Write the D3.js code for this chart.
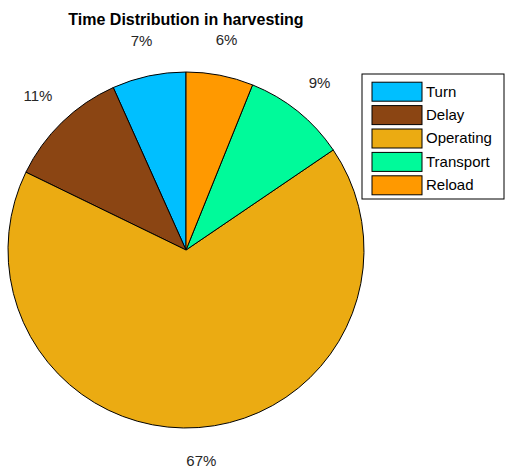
<!DOCTYPE html>
<html>
<head>
<meta charset="utf-8">
<script src="https://cdn.jsdelivr.net/npm/d3@7"></script>
<style>
  body { margin: 0; background: #fff; }
  text { font-family: "Liberation Sans", Arial, sans-serif; }
</style>
</head>
<body>
<script>
// Chart data
const categories = ['Turn', 'Delay', 'Operating', 'Transport', 'Reload'];
const values = [6.7, 11.1, 66.7, 9.4, 6.1];
const percentLabels = ['7%', '11%', '67%', '9%', '6%'];
const colours = ['#00bfff', '#8b4513', '#ebab12', '#00fa9a', '#ff9900'];

const width = 506, height = 476;
const cx = 186, cy = 250, radius = 178;

const svg = d3.select('body')
    .append('svg')
    .attr('width', width)
    .attr('height', height);

// Title
svg.append('text')
    .attr('x', 186)
    .attr('y', 25)
    .attr('text-anchor', 'middle')
    .style('font-size', '16px')
    .style('font-weight', 'bold')
    .text('Time Distribution in harvesting');

const g = svg.append('g')
    .attr('transform', `translate(${cx},${cy})`);

// counter-clockwise from 12 o'clock, like the original
const pie = d3.pie()
    .sort(null)
    .startAngle(0)
    .endAngle(-2 * Math.PI)
    .value(d => d);

const arcs = pie(values);

const arc = d3.arc().innerRadius(0).outerRadius(radius);
const labelArc = d3.arc().innerRadius(radius * 1.195).outerRadius(radius * 1.195);

g.selectAll('path')
    .data(arcs)
    .enter()
    .append('path')
    .attr('d', arc)
    .style('fill', (d, i) => colours[i])
    .style('stroke', '#000')
    .style('stroke-width', 1);

g.selectAll('text.pct')
    .data(arcs)
    .enter()
    .append('text')
    .attr('class', 'pct')
    .attr('transform', d => `translate(${labelArc.centroid(d)})`)
    .attr('text-anchor', 'middle')
    .attr('dominant-baseline', 'middle')
    .style('font-size', '15px')
    .style('fill', '#262626')
    .text((d, i) => percentLabels[i]);

// Legend
const legend = svg.append('g')
    .attr('transform', 'translate(362,74)');

legend.append('rect')
    .attr('x', 0)
    .attr('y', 0)
    .attr('width', 142)
    .attr('height', 125)
    .style('fill', '#fff')
    .style('stroke', '#000')
    .style('stroke-width', 1);

const rowScale = d3.scaleBand()
    .domain(categories)
    .range([6, 123]);

const rows = legend.selectAll('g.row')
    .data(categories)
    .enter()
    .append('g')
    .attr('class', 'row')
    .attr('transform', d => `translate(0,${rowScale(d)})`);

rows.append('rect')
    .attr('x', 10)
    .attr('y', (rowScale.bandwidth() - 19) / 2)
    .attr('width', 50)
    .attr('height', 19)
    .style('fill', (d, i) => colours[i])
    .style('stroke', '#000')
    .style('stroke-width', 1);

rows.append('text')
    .attr('x', 64)
    .attr('y', rowScale.bandwidth() / 2 + 1)
    .attr('dominant-baseline', 'middle')
    .style('font-size', '15px')
    .text(d => d);
</script>
</body>
</html>
